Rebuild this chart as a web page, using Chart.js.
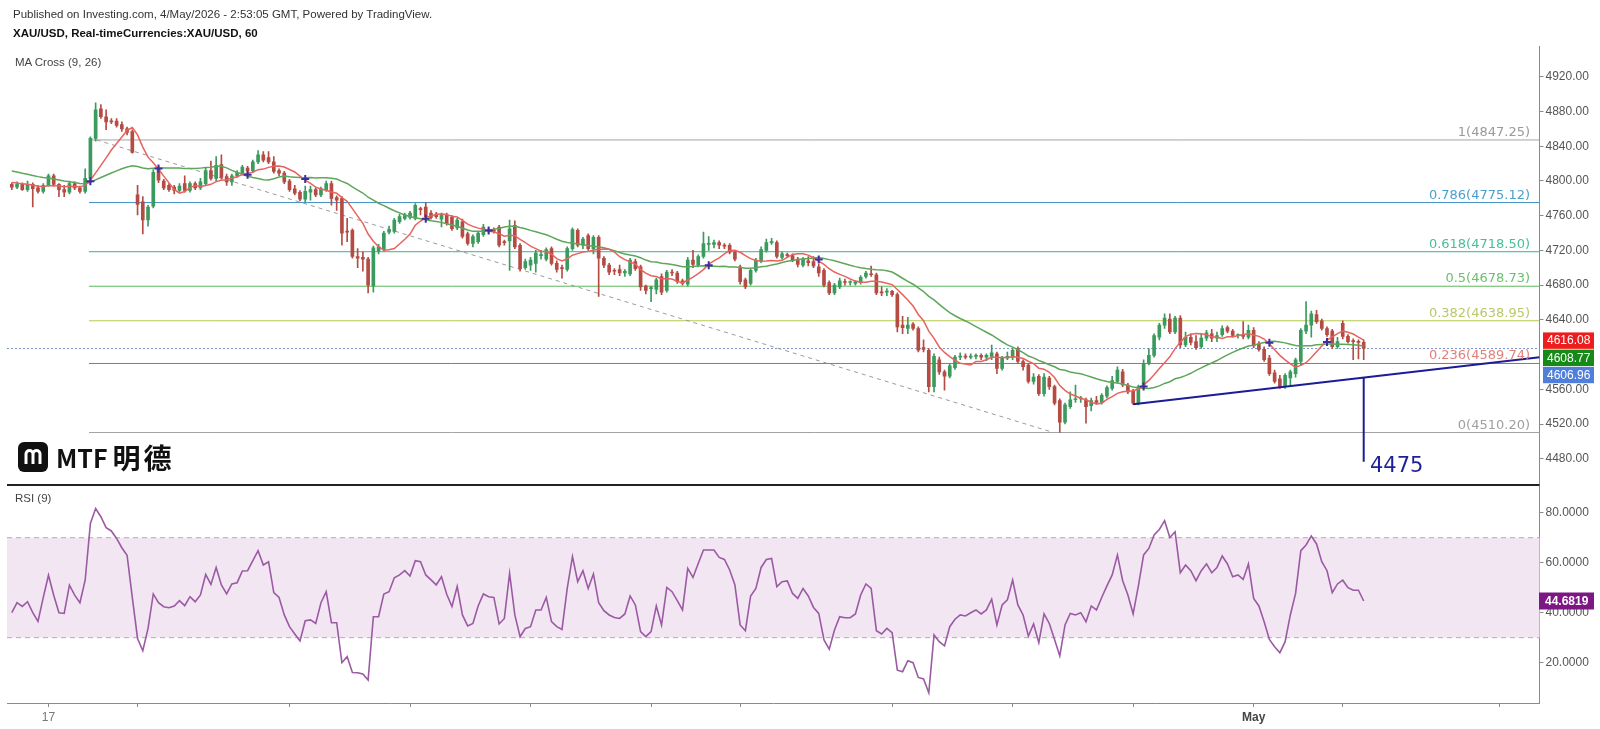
<!DOCTYPE html>
<html>
<head>
<meta charset="utf-8">
<script src="https://cdn.jsdelivr.net/npm/chart.js@4.4.1/dist/chart.umd.min.js"></script>
<style>
html,body{margin:0;padding:0;background:#fff;}
#wrap{position:relative;width:1600px;height:729px;overflow:hidden;font-family:"Liberation Sans",Arial,sans-serif;}
canvas{position:absolute;left:0;}
#cPrice{top:0;}
#cRsi{top:484px;}
.txt{position:absolute;white-space:nowrap;color:#333;}
#logo{position:absolute;left:18px;top:441px;height:31px;display:flex;align-items:center;}
</style>
</head>
<body>
<div id="wrap">
  <canvas id="cPrice" width="1600" height="484" style="width:1600px;height:484px"></canvas>
  <canvas id="cRsi" width="1600" height="245" style="width:1600px;height:245px"></canvas>
  <div class="txt" style="left:13px;top:8px;font-size:11.5px;">Published on Investing.com, 4/May/2026 - 2:53:05 GMT, Powered by TradingView.</div>
  <div class="txt" style="left:13px;top:27px;font-size:11.5px;font-weight:bold;color:#111;">XAU/USD, Real-timeCurrencies:XAU/USD, 60</div>
  <div class="txt" style="left:15px;top:56px;font-size:11.5px;color:#444;">MA Cross (9, 26)</div>
  <div class="txt" style="left:15px;top:492px;font-size:11.5px;color:#444;">RSI (9)</div>
  <div id="logo">
    <svg width="30" height="30" viewBox="0 0 30 30"><rect width="30" height="30" rx="6" fill="#111"/><path d="M8 22 V12 a3.5 3.5 0 0 1 7 0 V22 M15 12 a3.5 3.5 0 0 1 7 0 V22" stroke="#fff" stroke-width="3" fill="none"/></svg>
    <span style="margin-left:8px;font:700 25px 'Noto Sans CJK SC';color:#111;">MTF</span><span style="margin-left:5px;font:700 28px 'Noto Sans CJK SC';letter-spacing:3px;color:#111;">明德</span>
  </div>
</div>
<script>
// hourly XAU/USD candles (index 0 = first visible bar)
const preCloses = [4826,4828,4825,4827,4824,4822,4823,4820,4821,4818,4819,4816,4815,4812,4810,4806,4803,4801,4799,4800,4798,4801,4797,4799,4796];

const opens = [
  4796,4793,4796,4790,4796,4792,4788,4795,4806,4796,
  4790,4787,4797,4792,4788,4803,4849,4883,4874,4869,
  4869,4865,4860,4857,4784,4776,4755,4771,4815,4800,
  4795,4793,4789,4797,4789,4797,4792,4797,4812,4803,
  4819,4805,4799,4806,4809,4815,4812,4822,4830,4827,
  4822,4812,4809,4800,4791,4787,4779,4787,4790,4784,
  4790,4797,4781,4780,4742,4743,4713,4712,4710,4679,
  4719,4721,4741,4742,4753,4757,4758,4757,4768,4770,
  4763,4762,4756,4761,4758,4746,4753,4739,4728,4730,
  4738,4743,4744,4747,4730,4731,4749,4726,4700,4703,
  4705,4714,4710,4722,4705,4700,4698,4722,4743,4726,
  4737,4722,4735,4711,4703,4697,4698,4694,4693,4707,
  4701,4679,4676,4675,4690,4674,4695,4694,4685,4681,
  4709,4703,4713,4727,4727,4729,4726,4726,4718,4701,
  4686,4682,4697,4708,4720,4729,4729,4712,4715,4714,
  4710,4703,4708,4707,4701,4697,4683,4671,4678,4684,
  4683,4682,4683,4690,4693,4692,4672,4672,4673,4669,
  4634,4630,4635,4630,4608,4605,4563,4594,4580,4575,
  4585,4597,4598,4597,4598,4599,4597,4598,4601,4584,
  4596,4597,4607,4592,4588,4569,4575,4555,4573,4563,
  4547,4522,4540,4548,4549,4548,4541,4547,4545,4552,
  4561,4569,4580,4565,4558,4544,4563,4590,4599,4620,
  4634,4641,4626,4642,4611,4620,4615,4609,4619,4624,
  4619,4623,4631,4627,4622,4623,4620,4628,4612,4606,
  4596,4579,4572,4563,4573,4578,4592,4627,4634,4646,
  4639,4630,4627,4609,4636,4621,4616,4615,4614
];
const highs = [
  4798,4799,4798,4800,4798,4795,4797,4808,4808,4797,
  4795,4800,4799,4794,4814,4851,4890,4888,4882,4872,
  4872,4868,4862,4859,4795,4782,4772,4813,4817,4802,
  4797,4795,4797,4806,4799,4799,4803,4815,4823,4828,
  4830,4808,4808,4812,4818,4817,4824,4835,4834,4834,
  4828,4814,4811,4802,4795,4789,4794,4794,4792,4793,
  4800,4800,4783,4782,4757,4745,4722,4718,4712,4725,
  4727,4742,4748,4757,4762,4763,4765,4774,4770,4775,
  4766,4764,4763,4763,4760,4757,4756,4741,4738,4742,
  4750,4746,4746,4749,4732,4755,4754,4728,4710,4712,
  4720,4720,4723,4724,4708,4703,4724,4746,4745,4735,
  4739,4737,4737,4713,4705,4699,4703,4698,4711,4710,
  4703,4680,4679,4688,4693,4697,4698,4696,4687,4712,
  4720,4715,4741,4736,4732,4731,4728,4728,4720,4703,
  4688,4699,4711,4724,4733,4734,4731,4718,4717,4716,
  4712,4712,4713,4713,4704,4699,4685,4682,4688,4687,
  4685,4685,4691,4696,4702,4694,4678,4676,4674,4671,
  4644,4643,4637,4632,4617,4607,4601,4597,4582,4589,
  4599,4602,4601,4601,4601,4601,4601,4611,4603,4598,
  4603,4607,4609,4594,4590,4578,4577,4578,4575,4565,
  4549,4544,4557,4565,4552,4550,4550,4552,4555,4564,
  4575,4586,4583,4567,4560,4565,4594,4607,4624,4636,
  4647,4647,4644,4645,4626,4624,4622,4624,4628,4629,
  4626,4633,4633,4629,4624,4638,4634,4631,4615,4609,
  4599,4582,4576,4578,4582,4596,4630,4661,4650,4651,
  4641,4632,4629,4620,4639,4623,4618,4617,4617
];
const lows = [
  4790,4791,4789,4788,4770,4786,4786,4794,4794,4782,
  4782,4785,4790,4786,4786,4801,4846,4872,4859,4866,
  4862,4857,4853,4832,4761,4739,4748,4769,4798,4790,
  4788,4785,4787,4787,4787,4790,4790,4795,4801,4800,
  4802,4795,4795,4804,4807,4808,4810,4820,4822,4820,
  4809,4806,4797,4788,4784,4777,4776,4778,4782,4782,
  4788,4772,4766,4726,4730,4711,4700,4696,4671,4672,
  4716,4719,4739,4740,4751,4755,4756,4755,4761,4755,
  4756,4757,4747,4749,4743,4744,4734,4726,4724,4728,
  4736,4740,4740,4724,4726,4697,4722,4696,4698,4697,
  4695,4710,4708,4703,4695,4688,4696,4720,4724,4722,
  4720,4716,4667,4700,4692,4692,4691,4690,4691,4697,
  4674,4670,4661,4670,4669,4672,4691,4682,4680,4679,
  4700,4701,4711,4720,4723,4722,4722,4716,4708,4681,
  4676,4680,4695,4706,4718,4727,4711,4710,4712,4707,
  4701,4701,4702,4700,4690,4678,4669,4669,4676,4680,
  4680,4680,4681,4688,4690,4669,4668,4668,4667,4626,
  4624,4624,4628,4603,4603,4557,4557,4577,4559,4573,
  4583,4594,4595,4595,4595,4594,4593,4594,4578,4582,
  4594,4594,4590,4582,4567,4566,4553,4552,4560,4542,
  4510.2,4520,4538,4545,4545,4521,4535,4543,4543,4550,
  4559,4567,4563,4555,4542.7,4542,4561,4588,4597,4617,
  4630,4624,4624,4608,4609,4611,4606,4607,4616,4615,
  4615,4621,4625,4620,4619,4618,4618,4608,4604,4592,
  4576,4567,4561,4561,4565,4574,4588,4624,4620,4636,
  4628,4621,4607,4607,4618,4613,4594,4595,4594
];
const closes = [
  4793,4796,4790,4796,4791,4788,4795,4806,4796,4790,
  4787,4797,4792,4788,4803,4849,4882,4874,4868,4868,
  4864,4860,4856,4833,4773,4755,4770,4810,4801,4792,
  4790,4789,4794,4789,4797,4792,4799,4812,4803,4818,
  4804,4799,4806,4810,4816,4812,4822,4830,4824,4822,
  4811,4809,4799,4790,4786,4779,4788,4790,4784,4791,
  4797,4780,4778,4740,4741,4713,4711,4710,4680,4723,
  4724,4740,4744,4755,4759,4761,4763,4772,4767,4759,
  4758,4759,4761,4751,4745,4755,4736,4728,4736,4740,
  4747,4743,4742,4726,4729,4745,4724,4699,4707,4709,
  4717,4715,4721,4705,4698,4699,4722,4744,4726,4733,
  4722,4735,4711,4703,4695,4696,4694,4696,4709,4699,
  4678,4674,4677,4686,4672,4695,4694,4684,4682,4709,
  4704,4713,4728,4728,4729,4726,4725,4718,4710,4684,
  4678,4697,4709,4721,4729,4730,4713,4716,4714,4709,
  4704,4710,4706,4702,4694,4680,4671,4680,4685,4683,
  4683,4684,4689,4694,4692,4671,4671,4673,4669,4632,
  4631,4634,4630,4605,4606,4563,4598,4580,4575,4587,
  4597,4598,4597,4598,4599,4597,4599,4602,4584,4596,
  4598,4605,4592,4586,4569,4574,4555,4574,4563,4544,
  4522,4542,4548,4549,4550,4540,4547,4545,4553,4562,
  4570,4582,4565,4557,4544,4563,4590,4599,4622,4634,
  4642,4626,4642,4611,4620,4614,4608,4619,4625,4619,
  4622,4630,4627,4622,4623,4621,4628,4610,4606,4594,
  4578,4569,4563,4576,4580,4594,4628,4634,4647,4638,
  4630,4623,4609,4615,4621,4615,4615,4614,4606.96
];
const rsiValues = [
  40,44,42.5,44.4,40,36.5,46,55,47,40,
  39.7,51,47,44,53,75.7,81.7,78.4,74,72.7,
  69.7,66,63,46,29.7,24.8,33.7,47.5,44,42.4,
  42,42.7,44.8,42.8,46.4,44.4,47.1,55.3,51.3,58.1,
  51.1,47.5,51.5,52,56.7,56.8,60.8,64.8,59.1,60.4,
  48,46.1,39.1,34.4,31.5,28.7,36.8,37.1,35.7,44,
  48.4,36,36,20,22.4,16.1,16,15.5,13.1,38.4,
  38.4,47.5,48.4,54,55.1,56.8,54.7,60.8,60.4,55.1,
  53.1,51.1,54.4,47.4,42.5,50.5,39.1,34.7,35.7,42.7,
  47.5,46.4,46.1,35.5,37.7,55.7,39.1,30.4,33.7,34.4,
  41.1,41.1,46.1,36.4,34.4,33.3,49.7,62.4,52.4,56.8,
  49.7,55.5,44,40.8,39.1,38.1,37.7,39.5,46.7,43.1,
  32.4,30.4,32.4,42.7,35.1,50.1,48.4,44.8,41.1,57.7,
  54.1,59.7,65.1,65.1,65.1,62.1,61.3,57.1,51.1,35.1,
  32.8,46.7,49.7,58.1,61.3,61.7,50.4,52.4,52.7,47.7,
  45.7,49.7,46.7,42.1,39.7,29.1,25.4,33.1,38.4,38,
  38,39.5,47.1,51.5,49.7,32.8,31.5,33.7,32,17,
  16.4,20.8,20,14.1,13.5,8,31.1,28.4,26.7,34.4,
  37.4,39.1,38.7,40,41.1,39.5,41.1,45.4,35.1,43.1,
  45.1,53.1,43.1,39.1,30.7,35.5,28,39.5,35.7,29.3,
  22.7,35.1,39.7,39.1,40,36.4,42.7,41.1,46.1,50.7,
  55.1,63.1,52.8,47.1,39.5,50.7,63.1,65.7,71.1,73.3,
  76.8,70.1,72.4,56,59.1,56.8,52.8,56.8,59.5,56,
  58.1,62.7,59.5,54.4,55.1,53.3,59.5,45.7,42.7,36.4,
  29.3,26.4,24,28.4,39.1,47.7,64.8,67.1,70.7,67.5,
  60.4,56.8,48,51.5,53,50,49,49,44.68
];

const fibRatios = ['1','0.786','0.618','0.5','0.382','0.236','0'];
const fibPrices = [4847.25,4775.12,4718.50,4678.73,4638.95,4589.74,4510.20];
const priceTicks = [4480,4520,4560,4640,4680,4720,4760,4800,4840,4880,4920];
const rsiTicks = [20,40,60,80];
const rsiBands = [30,70];
const dayTickIdx = [7,24,53,76,99,122,139,168,191,214,237,254,284];
const dayTickLabels = ['17','','','','','','','','','','May','',''];
const lastLabels = ['4616.08','4608.77','4606.96'];
const rsiLastLabel = '44.6819';
const trendPts = [[214,4542.7],[291.55,4597.0]];
const targetPts = [[258,4573.5],[258,4476.5]];
const targetText = '4475';

// layout / style
const X_MIN = -0.916, X_MAX = 291.55;
const FIB_FROM = 14.73;
const FIB_DIAG = [[16.2,4847.25],[198.8,4510.2]];
const UP = '#3b9b5e', DOWN = '#b44c44';
const fibLineColors = ['#a3a3a3','#3d8fc4','#2fb594','#5cb85c','#b7c94e','#d45a55','#a3a3a3'];
const fibTextColors = ['#9a9a9a','#4a9fcf','#46bf9a','#6cbf6c','#b9c96a','#e07f7c','#a0a0a0'];
const AXIS = '#8a8a8a';

Chart.defaults.font.family = '"Liberation Sans", Arial, sans-serif';

function sma(n){
  const all = preCloses.concat(closes), off = preCloses.length;
  return closes.map((_, i)=>{
    let s = 0;
    for(let k=i+off-n+1; k<=i+off; k++) s += all[k];
    return s/n;
  });
}
const ma9 = sma(9), ma26 = sma(26);
const crosses = [];
for(let i=1;i<closes.length;i++){
  const a = ma9[i-1]-ma26[i-1], b = ma9[i]-ma26[i];
  if(a*b < 0) crosses.push({x:i, y:(ma9[i]+ma26[i])/2});
}

const candleCol = closes.map((c,i)=> c>=opens[i] ? UP : DOWN);
const wickData = closes.map((c,i)=>({x:i, y:[Math.min(lows[i],opens[i],c), Math.max(highs[i],opens[i],c)]}));
const bodyData = closes.map((c,i)=>({x:i, y:[Math.min(opens[i],c), Math.max(opens[i],c)]}));

// stop the axes from adding label padding to the chart area
function noPad(s){ s.paddingTop = 0; s.paddingBottom = 0; s.paddingLeft = 0; s.paddingRight = 0; }

const xCommon = {type:'linear', min:X_MIN, max:X_MAX, offset:false, grid:{offset:false, drawOnChartArea:false}};

const fibSets = fibPrices.map((p,k)=>({
  type:'line', data:[{x:FIB_FROM,y:p},{x:X_MAX,y:p}],
  borderColor:fibLineColors[k], borderWidth:1, pointRadius:0, order:20
}));

const priceOverlay = {
  id:'priceOverlay',
  beforeDatasetsDraw(chart){
    const {ctx, chartArea:a, scales:{y}} = chart;
    const py = y.getPixelForValue(parseFloat(lastLabels[2]));
    ctx.save();
    ctx.strokeStyle = '#7c93cc'; ctx.lineWidth = 1; ctx.setLineDash([2,2]);
    ctx.beginPath(); ctx.moveTo(a.left, py); ctx.lineTo(a.right, py); ctx.stroke();
    ctx.restore();
  },
  afterDatasetsDraw(chart){
    const {ctx, scales:{x,y}} = chart;
    ctx.save();
    ctx.font = '13px "DejaVu Sans"'; ctx.textAlign = 'right'; ctx.textBaseline = 'alphabetic';
    fibPrices.forEach((p,k)=>{
      ctx.fillStyle = fibTextColors[k];
      ctx.fillText(fibRatios[k]+'('+p.toFixed(2)+')', 1530, y.getPixelForValue(p)-4);
    });
    ctx.font = '21px "DejaVu Sans"'; ctx.textAlign = 'left'; ctx.fillStyle = '#1f1f99';
    ctx.fillText(targetText, x.getPixelForValue(259.2), y.getPixelForValue(targetPts[1][1]) + 10);
    ctx.restore();
  },
  afterDraw(chart){
    const {ctx, scales:{y}} = chart;
    const c0 = y.getPixelForValue(parseFloat(lastLabels[0]));
    const cols = ['#ee1d1d','#168a16','#4f7fdb'];
    ctx.save();
    ctx.font = '12px "Liberation Sans", Arial'; ctx.textBaseline = 'middle'; ctx.textAlign = 'left';
    lastLabels.forEach((t,k)=>{
      const cy = c0 + k*17.2;
      ctx.fillStyle = cols[k]; ctx.fillRect(1543, cy-8.2, 51, 16.4);
      ctx.fillStyle = '#fff'; ctx.fillText(t, 1547, cy+0.5);
    });
    ctx.restore();
  }
};

new Chart(document.getElementById('cPrice'), {
  type:'bar',
  data:{datasets:[
    ...fibSets,
    {type:'line', data:FIB_DIAG.map(p=>({x:p[0],y:p[1]})), borderColor:'#9a9a9a', borderWidth:1, borderDash:[4,4], pointRadius:0, order:19},
    {type:'bar', data:wickData, backgroundColor:candleCol, barThickness:1, grouped:false, order:6},
    {type:'bar', data:bodyData, backgroundColor:candleCol, barThickness:3, minBarLength:1, grouped:false, order:5},
    {type:'line', data:ma26.map((v,i)=>({x:i,y:v})), borderColor:'#5ea65a', borderWidth:1.5, pointRadius:0, order:4},
    {type:'line', data:ma9.map((v,i)=>({x:i,y:v})), borderColor:'#e8625e', borderWidth:1.5, pointRadius:0, order:3},
    {type:'line', data:crosses, showLine:false, pointStyle:'cross', pointRadius:4, pointBorderWidth:2, pointBorderColor:'#3b2f9c', order:2},
    {type:'line', data:trendPts.map(p=>({x:p[0],y:p[1]})), borderColor:'#1c1c96', borderWidth:2, pointRadius:0, order:1},
    {type:'line', data:targetPts.map(p=>({x:p[0],y:p[1]})), borderColor:'#1c1c96', borderWidth:2, pointRadius:0, order:1}
  ]},
  options:{
    responsive:false, animation:false, events:[],
    layout:{autoPadding:false, padding:{left:7, top:46, right:0, bottom:0}},
    plugins:{legend:{display:false}, tooltip:{enabled:false}},
    scales:{
      x:{...xCommon, display:false},
      y:{
        position:'right', min:4450.9, max:4955.5,
        afterBuildTicks:s=>{ s.ticks = priceTicks.map(v=>({value:v})); },
        afterFit:s=>{ s.width = 60.5; noPad(s); },
        ticks:{callback:v=>Number(v).toFixed(2), color:'#555', font:{size:12}, padding:2},
        grid:{drawOnChartArea:false, tickLength:4, color:AXIS},
        border:{color:AXIS}
      }
    }
  },
  plugins:[priceOverlay]
});

const rsiOverlay = {
  id:'rsiOverlay',
  beforeDatasetsDraw(chart){
    const {ctx, chartArea:a, scales:{y}} = chart;
    const yHi = y.getPixelForValue(rsiBands[1]), yLo = y.getPixelForValue(rsiBands[0]);
    ctx.save();
    ctx.fillStyle = '#f2e6f3';
    ctx.fillRect(a.left, yHi, a.right-a.left, yLo-yHi);
    ctx.strokeStyle = '#b7a9b7'; ctx.lineWidth = 1; ctx.setLineDash([5,4]);
    [yHi,yLo].forEach(v=>{ ctx.beginPath(); ctx.moveTo(a.left, v); ctx.lineTo(a.right, v); ctx.stroke(); });
    ctx.restore();
  },
  afterDraw(chart){
    const {ctx, chartArea:a, scales:{y}} = chart;
    ctx.save();
    ctx.fillStyle = '#222';
    ctx.fillRect(a.left, 0, a.right-a.left, 2);
    const cy = y.getPixelForValue(rsiValues[rsiValues.length-1]);
    ctx.fillStyle = '#7d1784'; ctx.fillRect(1539, cy-8.5, 55, 17);
    ctx.fillStyle = '#fff'; ctx.font = 'bold 12px "Liberation Sans", Arial';
    ctx.textBaseline = 'middle'; ctx.textAlign = 'left';
    ctx.fillText(rsiLastLabel, 1545, cy+0.5);
    ctx.restore();
  }
};

new Chart(document.getElementById('cRsi'), {
  type:'line',
  data:{datasets:[
    {data:rsiValues.map((v,i)=>({x:i,y:v})), borderColor:'#9b5aa3', borderWidth:1.6, pointRadius:0, tension:0}
  ]},
  options:{
    responsive:false, animation:false, events:[],
    layout:{autoPadding:false, padding:{left:7, top:0, right:0, bottom:0}},
    plugins:{legend:{display:false}, tooltip:{enabled:false}},
    scales:{
      x:{
        ...xCommon,
        afterBuildTicks:s=>{ s.ticks = dayTickIdx.map(v=>({value:v})); },
        afterFit:s=>{ s.height = 26; noPad(s); },
        ticks:{
          autoSkip:false, maxRotation:0, minRotation:0, padding:3,
          callback:(v,i)=>dayTickLabels[i],
          color:c=> (c.index===10) ? '#444' : '#777',
          font:c=> (c.index===10) ? {size:12, weight:'bold'} : {size:12}
        },
        grid:{drawOnChartArea:false, tickLength:4, color:AXIS, offset:false},
        border:{color:AXIS}
      },
      y:{
        position:'right', min:3.88, max:91.48,
        afterBuildTicks:s=>{ s.ticks = rsiTicks.map(v=>({value:v})); },
        afterFit:s=>{ s.width = 60.5; noPad(s); },
        ticks:{callback:v=>Number(v).toFixed(4), color:'#555', font:{size:12}, padding:2},
        grid:{drawOnChartArea:false, tickLength:4, color:AXIS},
        border:{color:AXIS}
      }
    }
  },
  plugins:[rsiOverlay]
});
</script>
</body>
</html>
